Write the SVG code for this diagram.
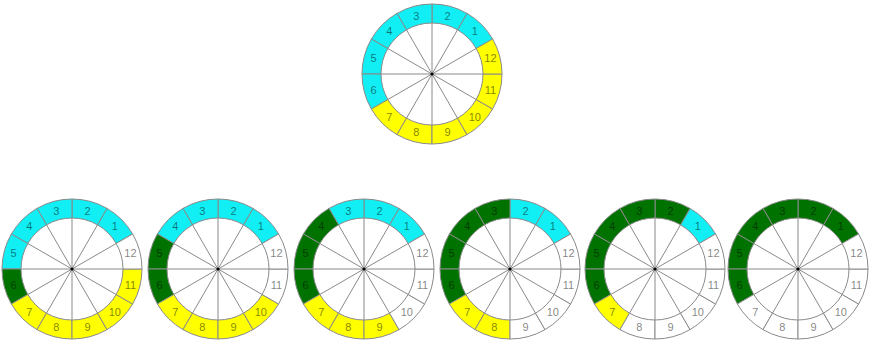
<svg xmlns="http://www.w3.org/2000/svg" xmlns:xlink="http://www.w3.org/1999/xlink" width="870" height="344" viewBox="0 0 870 344">
<style>
.c{fill:#11eef4}.y{fill:#ffff00}.g{fill:#007200}.w{fill:#ffffff}
.sec{stroke:#8a8a8a;stroke-width:1}
.sp{stroke:#8a8a8a;stroke-width:1;fill:none}
text{font-family:"Liberation Sans",Arial,sans-serif;font-size:11px;fill:#000;fill-opacity:0.5;text-anchor:middle;dominant-baseline:central}
</style>
<defs>
<path id="s1" class="sec" d="M60.62,-35A70,70 0 0 0 35,-60.62L25.5,-44.17A51,51 0 0 1 44.17,-25.5Z"/>
<path id="s2" class="sec" d="M35,-60.62A70,70 0 0 0 0,-70L0,-51A51,51 0 0 1 25.5,-44.17Z"/>
<path id="s3" class="sec" d="M0,-70A70,70 0 0 0 -35,-60.62L-25.5,-44.17A51,51 0 0 1 0,-51Z"/>
<path id="s4" class="sec" d="M-35,-60.62A70,70 0 0 0 -60.62,-35L-44.17,-25.5A51,51 0 0 1 -25.5,-44.17Z"/>
<path id="s5" class="sec" d="M-60.62,-35A70,70 0 0 0 -70,0L-51,0A51,51 0 0 1 -44.17,-25.5Z"/>
<path id="s6" class="sec" d="M-70,0A70,70 0 0 0 -60.62,35L-44.17,25.5A51,51 0 0 1 -51,0Z"/>
<path id="s7" class="sec" d="M-60.62,35A70,70 0 0 0 -35,60.62L-25.5,44.17A51,51 0 0 1 -44.17,25.5Z"/>
<path id="s8" class="sec" d="M-35,60.62A70,70 0 0 0 0,70L0,51A51,51 0 0 1 -25.5,44.17Z"/>
<path id="s9" class="sec" d="M0,70A70,70 0 0 0 35,60.62L25.5,44.17A51,51 0 0 1 0,51Z"/>
<path id="s10" class="sec" d="M35,60.62A70,70 0 0 0 60.62,35L44.17,25.5A51,51 0 0 1 25.5,44.17Z"/>
<path id="s11" class="sec" d="M60.62,35A70,70 0 0 0 70,0L51,0A51,51 0 0 1 44.17,25.5Z"/>
<path id="s12" class="sec" d="M70,0A70,70 0 0 0 60.62,-35L44.17,-25.5A51,51 0 0 1 51,0Z"/>
<g id="hub">
<path class="sp" d="M-51,0H51M0,-51V51M44.17,-25.5L-44.17,25.5M25.5,-44.17L-25.5,44.17M-25.5,-44.17L25.5,44.17M-44.17,-25.5L44.17,25.5"/>
<circle r="1.6" fill="#000"/>
</g>
</defs>

<g id="wheel-top" transform="translate(432,74)">
<use href="#s1" class="c"/><use href="#s2" class="c"/><use href="#s3" class="c"/><use href="#s4" class="c"/><use href="#s5" class="c"/><use href="#s6" class="c"/>
<use href="#s7" class="y"/><use href="#s8" class="y"/><use href="#s9" class="y"/><use href="#s10" class="y"/><use href="#s11" class="y"/><use href="#s12" class="y"/>
<use href="#hub"/>
<text x="42.78" y="-42.78">1</text><text x="15.66" y="-58.44">2</text><text x="-15.66" y="-58.44">3</text><text x="-42.78" y="-42.78">4</text><text x="-58.44" y="-15.66">5</text><text x="-58.44" y="15.66">6</text><text x="-42.78" y="42.78">7</text><text x="-15.66" y="58.44">8</text><text x="15.66" y="58.44">9</text><text x="42.78" y="42.78">10</text><text x="58.44" y="15.66">11</text><text x="58.44" y="-15.66">12</text>
</g>

<g id="wheel-1" transform="translate(72,269)">
<use href="#s1" class="c"/><use href="#s2" class="c"/><use href="#s3" class="c"/><use href="#s4" class="c"/><use href="#s5" class="c"/><use href="#s6" class="g"/>
<use href="#s7" class="y"/><use href="#s8" class="y"/><use href="#s9" class="y"/><use href="#s10" class="y"/><use href="#s11" class="y"/><use href="#s12" class="w"/>
<use href="#hub"/>
<text x="42.78" y="-42.78">1</text><text x="15.66" y="-58.44">2</text><text x="-15.66" y="-58.44">3</text><text x="-42.78" y="-42.78">4</text><text x="-58.44" y="-15.66">5</text><text x="-58.44" y="15.66">6</text><text x="-42.78" y="42.78">7</text><text x="-15.66" y="58.44">8</text><text x="15.66" y="58.44">9</text><text x="42.78" y="42.78">10</text><text x="58.44" y="15.66">11</text><text x="58.44" y="-15.66">12</text>
</g>

<g id="wheel-2" transform="translate(218,269)">
<use href="#s1" class="c"/><use href="#s2" class="c"/><use href="#s3" class="c"/><use href="#s4" class="c"/><use href="#s5" class="g"/><use href="#s6" class="g"/>
<use href="#s7" class="y"/><use href="#s8" class="y"/><use href="#s9" class="y"/><use href="#s10" class="y"/><use href="#s11" class="w"/><use href="#s12" class="w"/>
<use href="#hub"/>
<text x="42.78" y="-42.78">1</text><text x="15.66" y="-58.44">2</text><text x="-15.66" y="-58.44">3</text><text x="-42.78" y="-42.78">4</text><text x="-58.44" y="-15.66">5</text><text x="-58.44" y="15.66">6</text><text x="-42.78" y="42.78">7</text><text x="-15.66" y="58.44">8</text><text x="15.66" y="58.44">9</text><text x="42.78" y="42.78">10</text><text x="58.44" y="15.66">11</text><text x="58.44" y="-15.66">12</text>
</g>

<g id="wheel-3" transform="translate(364,269)">
<use href="#s1" class="c"/><use href="#s2" class="c"/><use href="#s3" class="c"/><use href="#s4" class="g"/><use href="#s5" class="g"/><use href="#s6" class="g"/>
<use href="#s7" class="y"/><use href="#s8" class="y"/><use href="#s9" class="y"/><use href="#s10" class="w"/><use href="#s11" class="w"/><use href="#s12" class="w"/>
<use href="#hub"/>
<text x="42.78" y="-42.78">1</text><text x="15.66" y="-58.44">2</text><text x="-15.66" y="-58.44">3</text><text x="-42.78" y="-42.78">4</text><text x="-58.44" y="-15.66">5</text><text x="-58.44" y="15.66">6</text><text x="-42.78" y="42.78">7</text><text x="-15.66" y="58.44">8</text><text x="15.66" y="58.44">9</text><text x="42.78" y="42.78">10</text><text x="58.44" y="15.66">11</text><text x="58.44" y="-15.66">12</text>
</g>

<g id="wheel-4" transform="translate(510,269)">
<use href="#s1" class="c"/><use href="#s2" class="c"/><use href="#s3" class="g"/><use href="#s4" class="g"/><use href="#s5" class="g"/><use href="#s6" class="g"/>
<use href="#s7" class="y"/><use href="#s8" class="y"/><use href="#s9" class="w"/><use href="#s10" class="w"/><use href="#s11" class="w"/><use href="#s12" class="w"/>
<use href="#hub"/>
<text x="42.78" y="-42.78">1</text><text x="15.66" y="-58.44">2</text><text x="-15.66" y="-58.44">3</text><text x="-42.78" y="-42.78">4</text><text x="-58.44" y="-15.66">5</text><text x="-58.44" y="15.66">6</text><text x="-42.78" y="42.78">7</text><text x="-15.66" y="58.44">8</text><text x="15.66" y="58.44">9</text><text x="42.78" y="42.78">10</text><text x="58.44" y="15.66">11</text><text x="58.44" y="-15.66">12</text>
</g>

<g id="wheel-5" transform="translate(655,269)">
<use href="#s1" class="c"/><use href="#s2" class="g"/><use href="#s3" class="g"/><use href="#s4" class="g"/><use href="#s5" class="g"/><use href="#s6" class="g"/>
<use href="#s7" class="y"/><use href="#s8" class="w"/><use href="#s9" class="w"/><use href="#s10" class="w"/><use href="#s11" class="w"/><use href="#s12" class="w"/>
<use href="#hub"/>
<text x="42.78" y="-42.78">1</text><text x="15.66" y="-58.44">2</text><text x="-15.66" y="-58.44">3</text><text x="-42.78" y="-42.78">4</text><text x="-58.44" y="-15.66">5</text><text x="-58.44" y="15.66">6</text><text x="-42.78" y="42.78">7</text><text x="-15.66" y="58.44">8</text><text x="15.66" y="58.44">9</text><text x="42.78" y="42.78">10</text><text x="58.44" y="15.66">11</text><text x="58.44" y="-15.66">12</text>
</g>

<g id="wheel-6" transform="translate(798,269)">
<use href="#s1" class="g"/><use href="#s2" class="g"/><use href="#s3" class="g"/><use href="#s4" class="g"/><use href="#s5" class="g"/><use href="#s6" class="g"/>
<use href="#s7" class="w"/><use href="#s8" class="w"/><use href="#s9" class="w"/><use href="#s10" class="w"/><use href="#s11" class="w"/><use href="#s12" class="w"/>
<use href="#hub"/>
<text x="42.78" y="-42.78">1</text><text x="15.66" y="-58.44">2</text><text x="-15.66" y="-58.44">3</text><text x="-42.78" y="-42.78">4</text><text x="-58.44" y="-15.66">5</text><text x="-58.44" y="15.66">6</text><text x="-42.78" y="42.78">7</text><text x="-15.66" y="58.44">8</text><text x="15.66" y="58.44">9</text><text x="42.78" y="42.78">10</text><text x="58.44" y="15.66">11</text><text x="58.44" y="-15.66">12</text>
</g>
</svg>
